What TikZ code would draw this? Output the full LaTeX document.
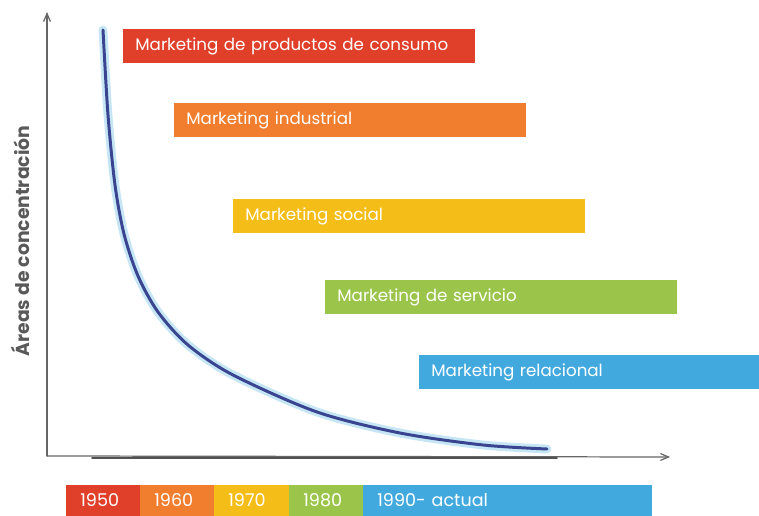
\documentclass[tikz,border=0pt]{standalone}
\usepackage{fontspec}
\setmainfont{Poppins}
\usepackage{tikz}
\usetikzlibrary{arrows}
\definecolor{rojo}{HTML}{E03F2A}
\definecolor{naranja}{HTML}{F07E2E}
\definecolor{amarillo}{HTML}{F5BD18}
\definecolor{verde}{HTML}{9BC54A}
\definecolor{celeste}{HTML}{42A9DF}
\definecolor{marino}{HTML}{3A4591}
\definecolor{brillo}{HTML}{C6E6F5}
\definecolor{eje}{HTML}{666666}
\tikzset{
  etapa/.style={fill=#1,text=white,anchor=west,inner xsep=0.24cm,inner ysep=0pt,
    minimum height=0.68cm,text width=6.56cm,align=left,font=\fontsize{9.5}{11}\selectfont},
  anio/.style={fill=#1,text=white,anchor=south west,inner xsep=0.28cm,inner ysep=0pt,
    minimum height=0.62cm,align=left,font=\fontsize{10}{12}\selectfont}
}
\begin{document}
\begin{tikzpicture}[line cap=round,line join=round,>=angle 45,x=0.02cm,y=0.02cm]
      \useasboundingbox (0,0) rectangle (759,516);
      \coordinate (O) at (47,60);
      \coordinate (ytop) at (47,504);
      \coordinate (xend) at (670,59);
      \draw[->,color=eje,line width=0.7pt] (O) -- (ytop);
      \draw[->,color=eje,line width=0.7pt] (O) -- (xend);
      \draw[color=eje!80!black,line width=1pt] (92,58) -- (557,58);
      \node[rotate=90,color=black!65,font=\bfseries\fontsize{10.7}{12}\selectfont] (titulo) at (20,275) {Áreas de concentración};
      % curva
      \draw[line width=5pt,color=brillo] plot[smooth,tension=0.5] coordinates {(103,486) (108,401) (115,331) (124,282) (138,240) (158,204) (188,171) (233,141) (317,104) (400,83) (483,71) (547,67)};
      \draw[line width=1.7pt,color=marino] plot[smooth,tension=0.5] coordinates {(103,486) (108,401) (115,331) (124,282) (138,240) (158,204) (188,171) (233,141) (317,104) (400,83) (483,71) (547,67)};
      % etapas
      \foreach \n/\x/\y/\c/\t in {consumo/123/469.5/rojo/Marketing de productos de consumo,
          industrial/174/395.5/naranja/Marketing industrial,
          social/233/300/amarillo/Marketing social,
          servicio/325/219/verde/Marketing de servicio,
          relacional/419/144/celeste/Marketing relacional}
      \node[etapa=\c] (\n) at (\x,\y) {\t};
      % linea de tiempo
      \foreach \n/\x/\w/\c/\t in {a50/66/0.92cm/rojo/1950,a60/140/0.92cm/naranja/1960,
          a70/214/0.94cm/amarillo/1970,a80/289/0.92cm/verde/1980,a90/363/5.22cm/celeste/1990- actual}
      \node[anio=\c,text width=\w] (\n) at (\x,0) {\t};
\end{tikzpicture}
\end{document}
